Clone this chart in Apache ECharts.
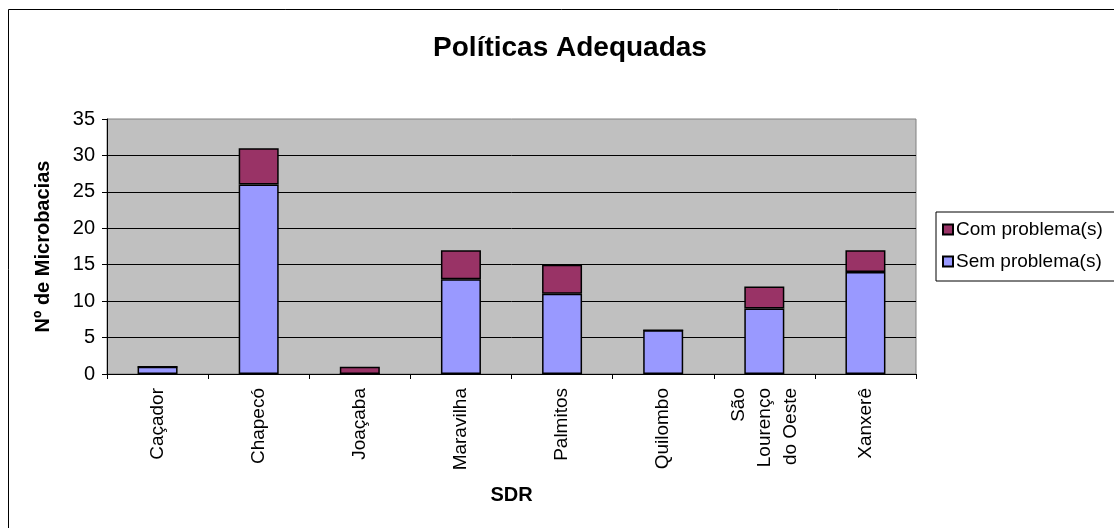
<!DOCTYPE html>
<html>
<head>
<meta charset="utf-8">
<script src="https://cdn.jsdelivr.net/npm/echarts@6/dist/echarts.min.js"></script>
<style>
  html, body { margin: 0; padding: 0; background: #fff; }
  #chart { width: 1114px; height: 528px; }
</style>
</head>
<body>
<div id="chart"></div>
<script>
const categories = ["Caçador", "Chapecó", "Joaçaba", "Maravilha", "Palmitos", "Quilombo", "São\nLourenço\ndo Oeste", "Xanxerê"];
const semProblema = [1, 26, 0, 13, 11, 6, 9, 14];
const comProblema = [0, 5, 1, 4, 4, 0, 3, 3];
const yTicks = { min: 0, max: 35, interval: 5 };

const font = "Arial, 'Liberation Sans', sans-serif";
const chart = echarts.init(document.getElementById("chart"));

const barDefault = {
  type: "bar",
  stack: "total",
  barWidth: 40,
  itemStyle: { borderColor: "#000", borderWidth: 1.5 }
};

chart.setOption({
  animation: false,
  textStyle: { fontFamily: font, color: "#000" },
  title: {
    text: "Políticas Adequadas",
    left: 565,
    top: 29,
    textAlign: "center",
    textStyle: { fontFamily: font, fontSize: 28, fontWeight: "bold", color: "#000" }
  },
  graphic: [{
    type: "rect",
    shape: { x: 8.5, y: 9.5, width: 1120, height: 540 },
    style: { fill: "none", stroke: "#000", lineWidth: 1 },
    z: -10
  }],
  legend: {
    orient: "vertical",
    left: 936,
    top: 212,
    data: ["Com problema(s)", "Sem problema(s)"],
    icon: "rect",
    itemWidth: 10,
    itemHeight: 10,
    itemGap: 13,
    padding: [8, 40, 10, 6],
    borderColor: "#000",
    borderWidth: 1,
    backgroundColor: "#fff",
    textStyle: { fontFamily: font, fontSize: 19, color: "#000", padding: [0, 0, 0, -2] }
  },
  grid: {
    left: 107,
    right: 198,
    top: 119,
    bottom: 154,
    show: true,
    backgroundColor: "#C0C0C0",
    borderColor: "#808080",
    borderWidth: 1
  },
  xAxis: {
    type: "category",
    data: categories,
    name: "SDR",
    nameLocation: "middle",
    nameGap: 111,
    nameTextStyle: { fontFamily: font, fontSize: 20, fontWeight: "bold", color: "#000" },
    axisLine: { lineStyle: { color: "#000", width: 1 } },
    axisTick: { show: true, length: 5, lineStyle: { color: "#000" } },
    axisLabel: {
      rotate: 90,
      margin: 14,
      fontFamily: font,
      fontSize: 19,
      lineHeight: 26,
      color: "#000",
      interval: 0
    }
  },
  yAxis: {
    type: "value",
    min: yTicks.min,
    max: yTicks.max,
    interval: yTicks.interval,
    name: "Nº de Microbacias",
    nameLocation: "middle",
    nameGap: 54,
    nameTextStyle: { fontFamily: font, fontSize: 20, fontWeight: "bold", color: "#000" },
    axisLine: { show: true, lineStyle: { color: "#000", width: 1 } },
    axisTick: { show: true, length: 5, lineStyle: { color: "#000" } },
    axisLabel: { fontFamily: font, fontSize: 20, color: "#000", margin: 12 },
    splitLine: { show: true, showMaxLine: false, lineStyle: { color: "#000", width: 1 } }
  },
  series: [
    { ...barDefault, name: "Sem problema(s)", data: semProblema, itemStyle: { ...barDefault.itemStyle, color: "#9999FF" } },
    { ...barDefault, name: "Com problema(s)", data: comProblema, itemStyle: { ...barDefault.itemStyle, color: "#993366" } }
  ]
});
</script>
</body>
</html>
